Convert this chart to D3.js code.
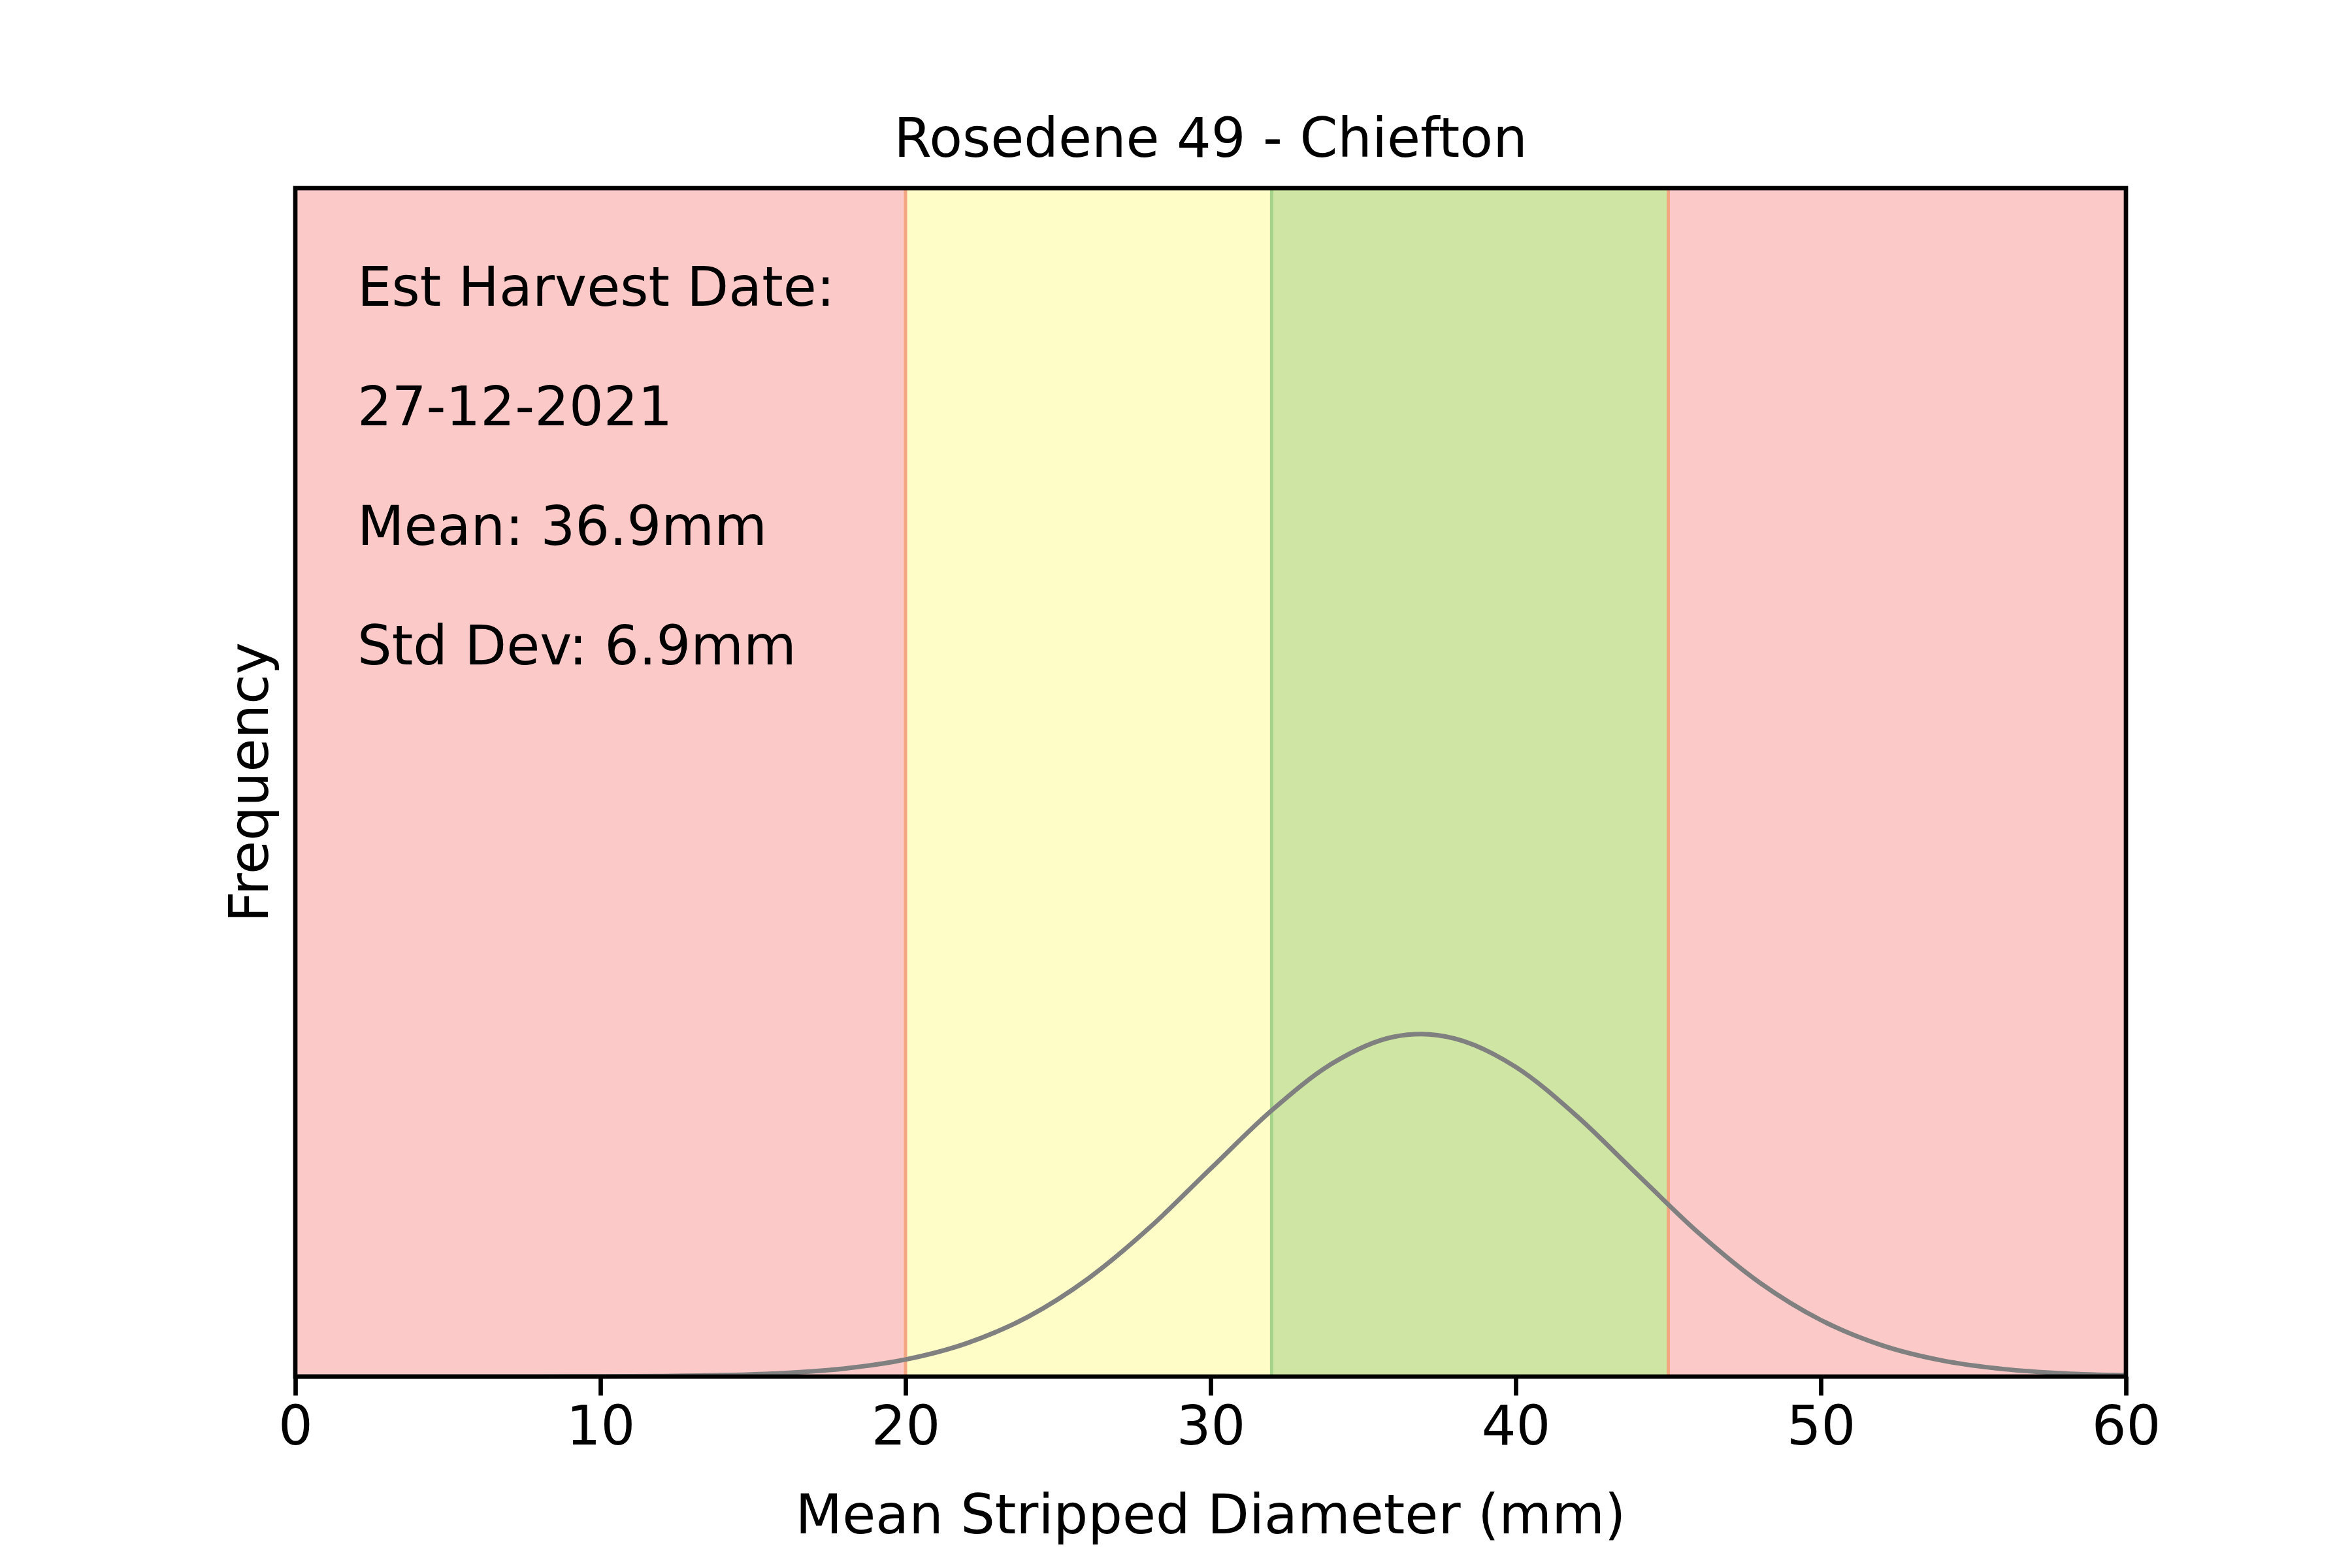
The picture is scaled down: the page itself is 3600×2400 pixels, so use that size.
<!DOCTYPE html>
<html>
<head>
<meta charset="utf-8">
<script src="https://cdn.jsdelivr.net/npm/d3@7"></script>
<style>
  body { margin: 0; background: #fff; }
  text { font-family: "DejaVu Sans", sans-serif; }
</style>
</head>
<body>
<div id="chart"></div>
<script>
// data
const xTicks = [0, 10, 20, 30, 40, 50, 60];
const bandStarts = [0, 20, 32, 45];
const bandEnds = [20, 32, 45, 60];
const bandFills = ["#fcc9c9", "#fefdc8", "#cfe5a3", "#fcc9c9"];
const bandEdges = ["#f4a582", "#f4a582", "#a6d38a", "#f4a582"];
const curveX = [0, 4, 8, 10, 12, 14, 16, 18, 20, 22, 24, 26, 28, 30, 32, 34, 36, 36.9, 38, 40, 42, 44, 46, 48, 50, 52, 54, 56, 58, 60];
const curveY = [0, 0, 0.0002, 0.0005, 0.0015, 0.0041, 0.0102, 0.0235, 0.0498, 0.0971, 0.174, 0.287, 0.435, 0.607, 0.777, 0.915, 0.992, 1, 0.987, 0.904, 0.761, 0.589, 0.419, 0.274, 0.165, 0.0913, 0.0464, 0.0217, 0.0093, 0.0037];
const infoLines = ["Est Harvest Date:", "27-12-2021", "Mean: 36.9mm", "Std Dev: 6.9mm"];

const W = 3600, H = 2400;
const margin = { top: 288, right: 346, bottom: 293, left: 452 };
const width = W - margin.left - margin.right;
const height = H - margin.top - margin.bottom;
const fs = 83;

const svg = d3.select("#chart").append("svg")
  .attr("width", W).attr("height", H);
const g = svg.append("g").attr("transform", `translate(${margin.left},${margin.top})`);

const x = d3.scaleLinear().domain([0, 60]).range([0, width]);
const y = d3.scaleLinear().domain([0, 3.47]).range([height, 0]);

// coloured bands
g.selectAll("rect.band")
  .data(bandStarts)
  .enter().append("rect")
  .attr("class", "band")
  .attr("x", (d) => x(d))
  .attr("y", 0)
  .attr("width", (d, i) => x(bandEnds[i]) - x(d))
  .attr("height", height)
  .attr("fill", (d, i) => bandFills[i]);

// band edges
g.selectAll("line.edge")
  .data([20, 32, 45])
  .enter().append("line")
  .attr("x1", (d) => x(d)).attr("x2", (d) => x(d))
  .attr("y1", 0).attr("y2", height)
  .attr("stroke", (d) => d === 32 ? "#a6d38a" : "#f4a582")
  .attr("stroke-width", 5);

// curve
const line = d3.line()
  .x((d, i) => x(curveX[i]))
  .y((d) => y(d))
  .curve(d3.curveMonotoneX);
g.append("path")
  .datum(curveY)
  .attr("d", line)
  .attr("fill", "none")
  .attr("stroke", "#808080")
  .attr("stroke-width", 7);

// x axis
const xAxis = g.append("g")
  .attr("transform", `translate(0,${height})`)
  .call(d3.axisBottom(x).tickValues(xTicks).tickSize(29).tickPadding(16));
xAxis.select(".domain").remove();
xAxis.selectAll("line").attr("stroke-width", 6.7);
xAxis.selectAll("text").style("font-size", fs + "px").attr("fill", "#000")
  .style("font-family", "DejaVu Sans");

// frame
g.append("rect")
  .attr("width", width).attr("height", height)
  .attr("fill", "none").attr("stroke", "#000").attr("stroke-width", 6.7);

// info text
g.selectAll("text.info")
  .data(infoLines)
  .enter().append("text")
  .attr("class", "info")
  .attr("x", 95)
  .attr("y", (d, i) => 180 + i * 183)
  .style("font-size", fs + "px")
  .text((d) => d);

// title and labels
svg.append("text")
  .attr("x", margin.left + width / 2).attr("y", 240)
  .attr("text-anchor", "middle").style("font-size", fs + "px")
  .text("Rosedene 49 - Chiefton");
svg.append("text")
  .attr("x", margin.left + width / 2).attr("y", 2347)
  .attr("text-anchor", "middle").style("font-size", fs + "px")
  .text("Mean Stripped Diameter (mm)");
svg.append("text")
  .attr("transform", `translate(410,${margin.top + height / 2}) rotate(-90)`)
  .attr("text-anchor", "middle").style("font-size", fs + "px")
  .text("Frequency");
</script>
</body>
</html>
